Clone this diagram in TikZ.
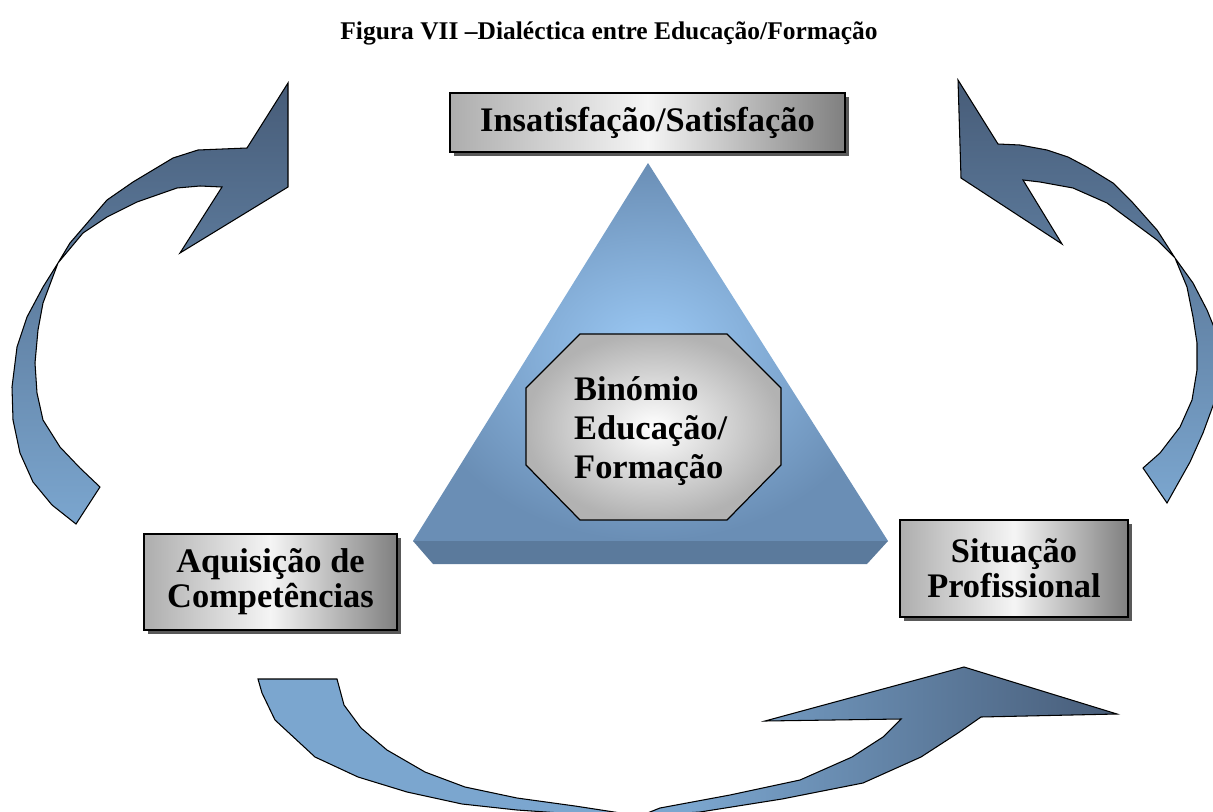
\documentclass[tikz,border=0pt]{standalone}
\usepackage{fontspec}
\setmainfont{Liberation Serif}
\usepackage{xcolor}
\usetikzlibrary{shadows}

\definecolor{azulclaro}{HTML}{7BA6CF}
\definecolor{azulescuro}{HTML}{475C78}
\definecolor{azultopo}{HTML}{9CCAF6}
\definecolor{azulbase}{HTML}{6A8EB5}
\definecolor{azulfundo}{HTML}{5B7A9C}

\begin{document}
\begin{tikzpicture}[x=0.02cm, y=-0.02cm]

\tikzset{
    painel/.style = {
    draw, line width=0.9pt,
    left color=black!32, right color=black!50, middle color=black!4,
    drop shadow={shadow xshift=0.08cm, shadow yshift=-0.08cm, fill=black!65, opacity=1},
    inner sep=0pt, align=center
    }
}

\tikzstyle{letra}=[font=\fontsize{19.6}{20}\selectfont\bfseries]
\tikzstyle{seta}=[draw=black, line width=0.6pt]

\useasboundingbox (0,0) rectangle (1213,811);
\clip (0,0) rectangle (1213,811);

\node (titulo) [anchor=base, font=\fontsize{14.5}{17}\selectfont\bfseries] at (609,40)
    {Figura VII –Dialéctica entre Educação/Formação};

% setas curvas
\draw [seta, top color=azulescuro, middle color=azulclaro!85!azulescuro, bottom color=azulclaro]
    (76,524) -- (52,505) -- (33,482) -- (20,453) -- (13,420) -- (12,387) -- (17,347)
    -- (27,317) -- (43,287) -- (58,263) -- (70,243) -- (107,200) -- (133,182) -- (173,158)
    -- (198,150) -- (247,148) -- (288,83) -- (288,187) -- (180,253) -- (222,187)
    -- (200,186) -- (177,188) -- (137,202) -- (107,217) -- (83,233) -- (58,263)
    -- (43,303) -- (38,330) -- (35,363) -- (37,393) -- (43,420) -- (60,447) -- (80,468)
    -- (100,487) -- cycle;

\draw [seta, top color=azulescuro, middle color=azulclaro!85!azulescuro, bottom color=azulclaro]
    (958,80) -- (998,144) -- (1020,145) -- (1047,150) -- (1068,157) -- (1087,167)
    -- (1113,183) -- (1133,203) -- (1157,230) -- (1175,258) -- (1193,283) -- (1207,310)
    -- (1218,337) -- (1218,370) -- (1214,403) -- (1203,433) -- (1190,462) -- (1167,503)
    -- (1143,468) -- (1160,453) -- (1180,427) -- (1192,400) -- (1197,370) -- (1197,343)
    -- (1193,317) -- (1187,287) -- (1175,258) -- (1157,240) -- (1130,220) -- (1107,203)
    -- (1073,188) -- (1040,182) -- (1023,180) -- (1062,244) -- (961,178) -- cycle;

\draw [seta, left color=azulclaro, right color=azulescuro, middle color=azulclaro]
    (258,679) -- (262,693) -- (275,720) -- (315,757) -- (358,777) -- (407,792)
    -- (462,804) -- (517,810) -- (575,814) -- (640,816) -- (700,812) -- (782,799)
    -- (863,783) -- (921,757) -- (958,733) -- (981,717) -- (1117,714) -- (964,667)
    -- (765,721) -- (901,719) -- (883,737) -- (852,757) -- (800,780) -- (730,795)
    -- (660,808) -- (640,816) -- (575,806) -- (517,798) -- (465,787) -- (425,772)
    -- (387,750) -- (361,728) -- (344,705) -- (337,679) -- cycle;

% triangulo
\shade [inner color=azultopo, outer color=azulbase] (648,163) -- (888,541) -- (413,541) -- cycle;
\fill [azulfundo] (413,541) -- (888,541) -- (867,564) -- (433,564) -- cycle;

% octogono
\draw [line width=0.7pt, inner color=white, outer color=black!30]
    (580,334) -- (727,334) -- (781,388) -- (781,465) -- (727,520) -- (580,520)
    -- (526,465) -- (526,388) -- cycle;
\node (binomio) [letra, anchor=west, align=left, font=\fontsize{19.6}{22}\selectfont\bfseries] at (568,431)
    {Binómio\\Educação/\\Formação};

\node (insatisfacao) [painel, letra, minimum width=7.9cm, minimum height=1.18cm] at (647.5,122.5)
    {Insatisfação/Satisfação};
\node (aquisicao) [painel, letra, minimum width=5.06cm, minimum height=1.92cm] at (270.5,582)
    {Aquisição de\\Competências};
\node (situacao) [painel, letra, minimum width=4.56cm, minimum height=1.94cm] at (1014,568.5)
    {Situação\\Profissional};

\end{tikzpicture}
\end{document}
